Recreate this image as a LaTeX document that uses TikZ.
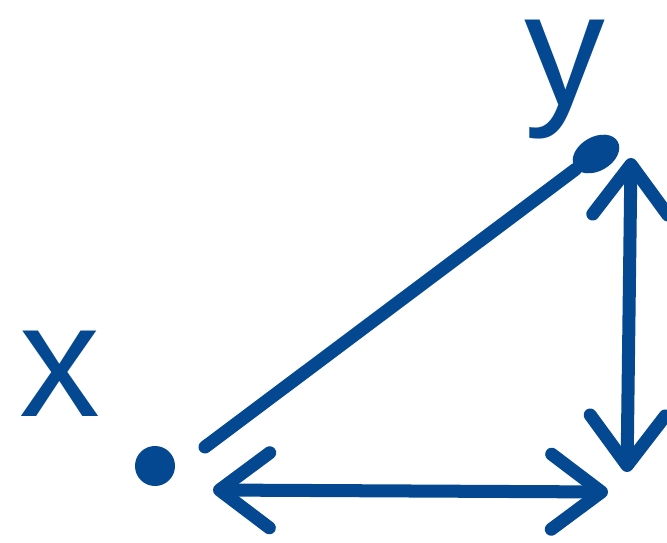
\documentclass[tikz,border=0pt]{standalone}
\usepackage{fontspec}
\setmainfont{Liberation Sans}
\usetikzlibrary{arrows.meta, shapes.geometric}

\definecolor{penblue}{RGB}{4,72,146}

\tikzset{
    pen/.style={draw=penblue, line width=3.7pt, line cap=round, line join=round},
    dot/.style={ellipse, fill=penblue, inner sep=0pt},
    letter/.style={text=penblue, inner sep=0pt, font=\fontsize{46}{46}\selectfont},
    twoway/.style={pen, {Straight Barb[round, length=0.5cm, width=0.75cm]}-{Straight Barb[round, length=0.5cm, width=0.75cm]}}
}

\begin{document}
\begin{tikzpicture}[x=0.01cm, y=-0.01cm]
    \useasboundingbox (0, 0) rectangle (667, 543);

    % Points
    \node[dot, minimum width=0.40cm, minimum height=0.40cm] (xpt) at (155, 466) {};
    \node[dot, minimum width=0.50cm, minimum height=0.34cm, rotate=30] (ypt) at (596, 154) {};
    \node[letter] (xlabel) at (60, 374) {x};
    \node[letter] (ylabel) at (565, 80) {y};

    % Ends of the arrows
    \coordinate (xystart) at (205, 447);
    \coordinate (hleft) at (213, 490);
    \coordinate (hright) at (608, 492);
    \coordinate (vbottom) at (627, 472);
    \coordinate (vtop) at (631, 158);

    % Connections
    \draw[pen] (xystart) -- (ypt);
    \draw[twoway] (hleft) -- (hright);
    \draw[twoway] (vbottom) -- (vtop);
\end{tikzpicture}
\end{document}
